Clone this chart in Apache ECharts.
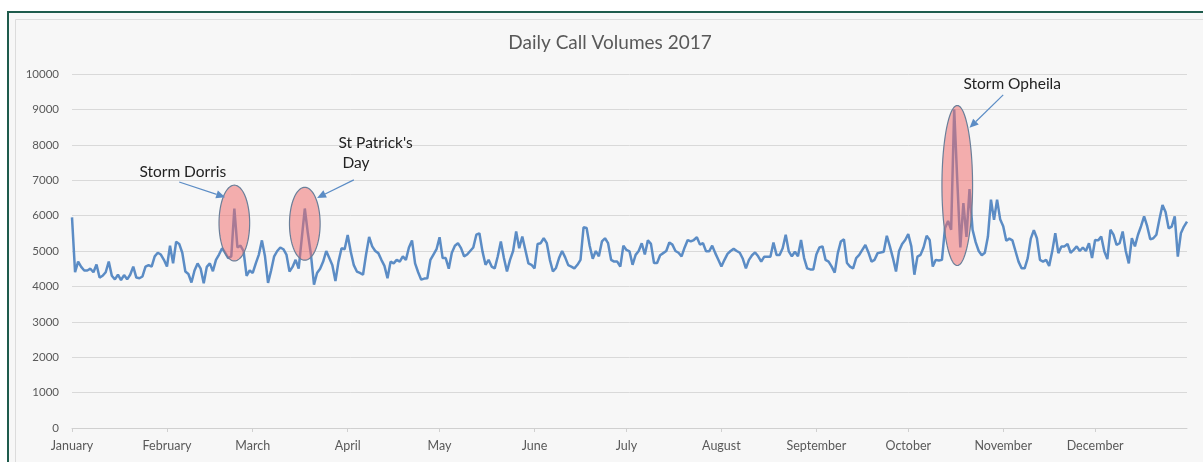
<!DOCTYPE html>
<html><head><meta charset="utf-8">
<script src="https://cdn.jsdelivr.net/npm/echarts@6/dist/echarts.min.js"></script>
<style>html,body{margin:0;padding:0;background:#fff}#c{width:1203px;height:462px}</style>
</head><body><div id="c"></div><script>
const title = 'Daily Call Volumes 2017';
const monthNames = ['January','February','March','April','May','June','July','August','September','October','November','December'];
const monthDays = [31,28,31,30,31,30,31,31,30,31,30,31];
const yTicks = {min: 0, max: 10000, step: 1000};

const jan = [5950,4400,4700,4550,4450,4450,4500,4400,4620,4250,4300,4400,4700,4300,4200,4330,4180,4320,4200,4330,4560,4250,4230,4280,4560,4600,4560,4850,4950,4900,4750];
const feb = [4560,5150,4650,5260,5200,4950,4420,4350,4110,4450,4650,4500,4090,4550,4650,4430,4750,4900,5080,4950,4800,4850,6200,5100,5150,5000,4300,4450];
const mar = [4380,4650,4900,5300,4850,4100,4450,4850,5000,5100,5050,4900,4420,4550,4750,4500,5350,6200,5500,4900,4050,4380,4500,4700,5000,4800,4600,4150,4700,5080,5050];
const apr = [5450,4980,4600,4420,4380,4330,4900,5400,5130,5000,4940,4750,4580,4230,4700,4650,4750,4700,4850,4750,5100,5300,4650,4400,4190,4220,4230,4750,4900,5050];
const may = [5390,4800,4800,4500,4950,5150,5220,5080,4850,4900,5000,5100,5460,5500,4990,4610,4750,4560,4510,4850,5270,4800,4420,4750,5000,5550,5080,5410,5030,4650,4610];
const jun = [4510,5200,5220,5360,5220,4750,4420,4520,4800,5000,4820,4600,4560,4510,4610,4750,5670,5650,5150,4780,5000,4850,5270,5360,5220,4750,4700,4700,4560,5150];
const jul = [5030,4990,4610,4890,5000,5220,4900,5300,5200,4660,4660,4880,4940,5000,5240,5180,5000,4950,4850,5100,5310,5270,5310,5390,5180,5220,4990,4990,5150,4940,4750];
const aug = [4560,4750,4920,5000,5060,5000,4950,4780,4510,4750,4880,4960,4850,4700,4840,4840,4840,5240,4890,4890,5080,5460,4990,4850,4980,4850,5310,4800,4510,4480,4480];
const sep = [4900,5100,5130,4750,4700,4560,4390,4940,5270,5330,4660,4560,4510,4800,4890,5030,5170,4960,4700,4750,4940,4960,4980,5430,5130,4800,4420,5000,5200,5310];
const oct = [5480,5130,4330,4840,4890,5100,5430,5310,4560,4750,4730,4750,5650,5850,5600,9000,7000,5100,6350,5400,6750,5600,5250,5000,4880,4950,5400,6450,5880,6450,5900];
const nov = [5700,5290,5350,5300,5000,4700,4510,4510,4800,5350,5590,5360,4750,4700,4750,4580,4990,5500,4940,5130,5130,5200,4950,5030,5130,5000,5100,5000,5220,4800];
const dec = [5310,5300,5410,4990,4770,5600,5460,5170,5220,5550,5000,4650,5360,5130,5460,5700,5980,5700,5330,5360,5460,5900,6300,6100,5640,5690,5980,4840,5500,5690,5830];

const calls = [].concat(jan,feb,mar,apr,may,jun,jul,aug,sep,oct,nov,dec);
const dates = [];
monthDays.forEach((n, m) => { for (let d = 1; d <= n; d++) dates.push('2017-' + String(m+1).padStart(2,'0') + '-' + String(d).padStart(2,'0')); });
const isMonthStart = (i, v) => v.slice(8) === '01';

// annotations in data coordinates (day index, value)
const notes = [
  {text: 'Storm Dorris', at: [22.2, 7230], ell: {c: [53.1, 5790], rx: 4.6, ry: 1070}, arrow: [[34.6, 6950], [49.6, 6520]]},
  {text: "St Patrick's\n Day", at: [87.0, 7770], ell: {c: [76.3, 5770], rx: 4.4, ry: 1030}, arrow: [[91.6, 7010], [79.9, 6500]]},
  {text: 'Storm Opheila', at: [291.3, 9720], ell: {c: [288.8, 6850], rx: 5.2, ry: 2260}, arrow: [[303.6, 9410], [292.5, 8480]]}
];

const chart = echarts.init(document.getElementById('c'), null, {renderer: 'canvas'});
const FONT = 'Lato, "Open Sans", sans-serif';
chart.setOption({
  animation: false,
  backgroundColor: '#ffffff',
  grid: {left: 72, right: 16, top: 74, bottom: 34, containLabel: false},
  xAxis: {
    type: 'category', data: dates, boundaryGap: false,
    axisLine: {show: true, lineStyle: {color: '#d0d0d0', width: 1}},
    axisTick: {show: true, interval: isMonthStart, length: 4, lineStyle: {color: '#d0d0d0'}},
    axisLabel: {interval: isMonthStart, formatter: v => monthNames[parseInt(v.slice(5,7),10)-1], color: '#595959', fontSize: 12.5, fontFamily: FONT, margin: 11},
    splitLine: {show: false}
  },
  yAxis: {
    type: 'value', min: yTicks.min, max: yTicks.max, interval: yTicks.step,
    axisLine: {show: false}, axisTick: {show: false},
    axisLabel: {color: '#595959', fontSize: 11.5, fontFamily: FONT, margin: 13, formatter: v => String(v)},
    splitLine: {lineStyle: {color: '#d9d9d9', width: 1}}
  },
  series: [{type: 'line', data: calls, symbol: 'none', smooth: false, z: 3,
    lineStyle: {color: '#5b8cc5', width: 2.5}}]
});

const px = p => chart.convertToPixel({xAxisIndex: 0, yAxisIndex: 0}, p);
const g = [
  {type: 'rect', z: -100, shape: {x: 0, y: 0, width: 1203, height: 462}, style: {fill: '#ffffff'}},
  {type: 'rect', z: -99, shape: {x: 8, y: 12, width: 1210, height: 470}, style: {fill: '#f7f7f7', stroke: '#1e5b4c', lineWidth: 2}},
  {type: 'rect', z: -98, shape: {x: 15.5, y: 19.5, width: 1200, height: 460}, style: {fill: '#f7f7f7', stroke: '#dcdcdc', lineWidth: 1}},
  {type: 'text', z: 50, x: 610, y: 43, style: {text: title, font: '19px ' + FONT, fill: '#595959', textAlign: 'center', textVerticalAlign: 'middle'}}
];
notes.forEach(n => {
  const c = px(n.ell.c);
  const ex = px([n.ell.c[0] + n.ell.rx, n.ell.c[1]]);
  const ey = px([n.ell.c[0], n.ell.c[1] + n.ell.ry]);
  const rx = Math.abs(ex[0] - c[0]), ry = Math.abs(c[1] - ey[1]);
  const pts = [];
  for (let k = 0; k < 96; k++) { const t = k / 96 * Math.PI * 2; pts.push([c[0] + rx * Math.cos(t), c[1] + ry * Math.sin(t)]); }
  g.push({type: 'polygon', z: 100, shape: {points: pts},
    style: {fill: 'rgba(240,105,105,0.52)', stroke: '#6a7f99', lineWidth: 1.2}});
  const a0 = px(n.arrow[0]), a1 = px(n.arrow[1]);
  const dx = a1[0] - a0[0], dy = a1[1] - a0[1], L = Math.hypot(dx, dy);
  const ux = dx / L, uy = dy / L, nx = -uy, ny = ux;
  const hl = 9, hw = 4;
  const b = [a1[0] - ux * hl, a1[1] - uy * hl];
  g.push({type: 'line', z: 101, shape: {x1: a0[0], y1: a0[1], x2: b[0], y2: b[1]}, style: {stroke: '#5b8cc5', lineWidth: 1.2}});
  g.push({type: 'polygon', z: 101, shape: {points: [a1, [b[0] + nx * hw, b[1] + ny * hw], [b[0] - nx * hw, b[1] - ny * hw]]}, style: {fill: '#5b8cc5'}});
  const t = px(n.at);
  g.push({type: 'text', z: 102, x: t[0], y: t[1], style: {text: n.text, font: '15.5px ' + FONT, fill: '#222222', textAlign: 'left', textVerticalAlign: 'middle', lineHeight: 20}});
});
chart.setOption({graphic: g});
</script></body></html>
